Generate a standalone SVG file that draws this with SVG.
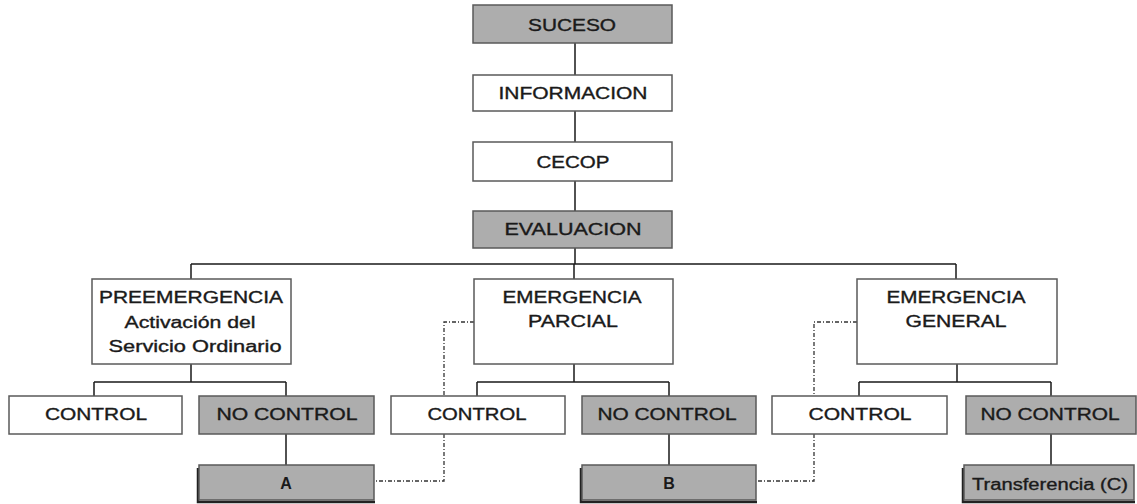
<svg xmlns="http://www.w3.org/2000/svg" width="1137" height="504" viewBox="0 0 1137 504">
<style>
.box{fill:#ffffff;stroke:#5a5a5a;stroke-width:1.5}
.g{fill:#adadad;stroke:#5a5a5a;stroke-width:1.5}
.t{font-family:"Liberation Sans",Arial,sans-serif;font-size:16px;fill:#1a1a1a;stroke:#1a1a1a;stroke-width:0.35;text-anchor:middle}
.b{font-weight:bold;stroke-width:0}
.ln{fill:none;stroke:#1a1a1a;stroke-width:1.5}
.dd{fill:none;stroke:#333;stroke-width:1.3;stroke-dasharray:4 2 1 2}
.sh{fill:none;stroke:#222;stroke-width:2.5}
</style>
<rect width="1137" height="504" fill="#ffffff"/>
<g id="connectors">
<path class="ln" d="M575 43V75M575 111V142M575 181V211M575 248V264M191 264H956M191 264V279M574 264V279M956 264V279"/>
<path class="ln" d="M191 364V382M94 382H286M94 382V396M286 382V396M286 434V465"/>
<path class="ln" d="M574 364V382M477 382H669M477 382V396M669 382V396M669 434V465"/>
<path class="ln" d="M957 364V382M859 382H1051M859 382V396M1051 382V396M1051 434V465"/>
<path class="dd" d="M474 322H444V396M444 434V481H376"/>
<path class="dd" d="M857 322H814V396M814 434V481H758"/>
</g>
<g id="suceso"><rect class="g" x="473" y="5" width="199" height="38"/><text class="t" x="572" y="31" textLength="88" lengthAdjust="spacingAndGlyphs">SUCESO</text></g>
<g id="informacion"><rect class="box" x="473" y="75" width="199" height="36"/><text class="t" x="573" y="99" textLength="149" lengthAdjust="spacingAndGlyphs">INFORMACION</text></g>
<g id="cecop"><rect class="box" x="473" y="142" width="199" height="39"/><text class="t" x="573" y="168" textLength="73" lengthAdjust="spacingAndGlyphs">CECOP</text></g>
<g id="evaluacion"><rect class="g" x="473" y="211" width="199" height="37"/><text class="t" x="573" y="235" textLength="137" lengthAdjust="spacingAndGlyphs">EVALUACION</text></g>
<g id="preemergencia"><rect class="box" x="92" y="279" width="199" height="85"/>
<text class="t" x="191" y="303" textLength="184" lengthAdjust="spacingAndGlyphs">PREEMERGENCIA</text>
<text class="t" x="190" y="328" textLength="131" lengthAdjust="spacingAndGlyphs">Activación del</text>
<text class="t" x="195" y="352" textLength="173" lengthAdjust="spacingAndGlyphs">Servicio Ordinario</text></g>
<g id="emergencia-parcial"><rect class="box" x="474" y="279" width="199" height="85"/>
<text class="t" x="572" y="303" textLength="139" lengthAdjust="spacingAndGlyphs">EMERGENCIA</text>
<text class="t" x="573" y="327" textLength="90" lengthAdjust="spacingAndGlyphs">PARCIAL</text></g>
<g id="emergencia-general"><rect class="box" x="857" y="279" width="200" height="85"/>
<text class="t" x="956" y="303" textLength="139" lengthAdjust="spacingAndGlyphs">EMERGENCIA</text>
<text class="t" x="956" y="327" textLength="101" lengthAdjust="spacingAndGlyphs">GENERAL</text></g>
<g id="control-1"><rect class="box" x="9" y="396" width="173" height="38"/><text class="t" x="96" y="420" textLength="102" lengthAdjust="spacingAndGlyphs">CONTROL</text></g>
<g id="nocontrol-1"><rect class="g" x="199" y="396" width="175" height="38"/><text class="t" x="287" y="420" textLength="141" lengthAdjust="spacingAndGlyphs">NO CONTROL</text></g>
<g id="control-2"><rect class="box" x="391" y="396" width="174" height="38"/><text class="t" x="477" y="420" textLength="99" lengthAdjust="spacingAndGlyphs">CONTROL</text></g>
<g id="nocontrol-2"><rect class="g" x="582" y="396" width="174" height="38"/><text class="t" x="667" y="420" textLength="139" lengthAdjust="spacingAndGlyphs">NO CONTROL</text></g>
<g id="control-3"><rect class="box" x="772" y="396" width="175" height="38"/><text class="t" x="860" y="420" textLength="103" lengthAdjust="spacingAndGlyphs">CONTROL</text></g>
<g id="nocontrol-3"><rect class="g" x="966" y="396" width="170" height="38"/><text class="t" x="1050" y="420" textLength="139" lengthAdjust="spacingAndGlyphs">NO CONTROL</text></g>
<g id="a"><path class="sh" d="M198 468V502H375"/><rect class="g" x="199" y="465" width="175" height="35"/><text class="t b" x="286" y="489">A</text></g>
<g id="b"><path class="sh" d="M581 468V502H757"/><rect class="g" x="582" y="465" width="174" height="35"/><text class="t b" x="669" y="489">B</text></g>
<g id="transferencia"><path class="sh" d="M963 468V502H1135"/><rect class="g" x="964" y="465" width="170" height="35"/><text class="t" x="1050" y="490" textLength="156" lengthAdjust="spacingAndGlyphs">Transferencia (C)</text></g>
</svg>
